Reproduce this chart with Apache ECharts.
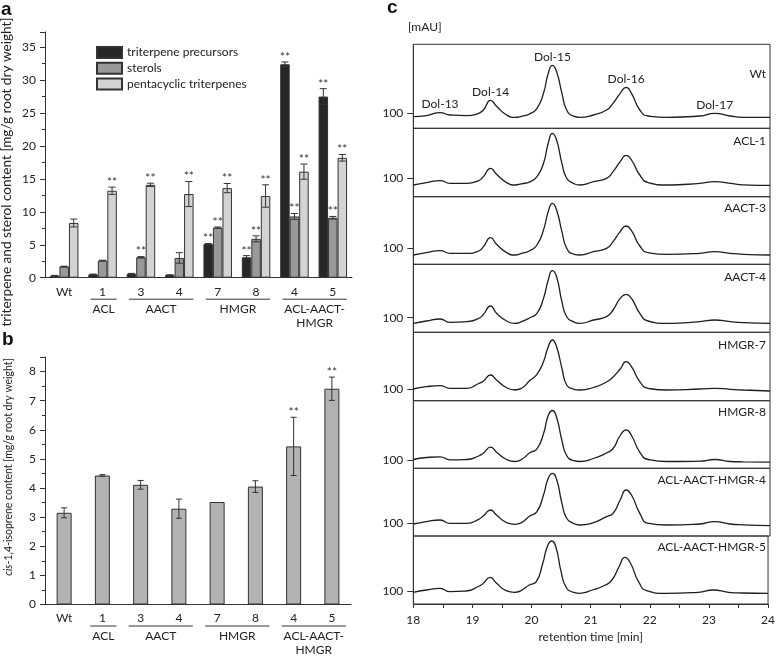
<!DOCTYPE html>
<html><head><meta charset="utf-8">
<script src="https://cdn.jsdelivr.net/npm/echarts@6/dist/echarts.min.js"></script>
<style>html,body{margin:0;padding:0;background:#fff}#c{width:778px;height:657px}</style>
</head><body><div id="c"></div>
<script>
// ---------- DATA ----------
const categories = ['Wt', '1', '3', '4', '7', '8', '4', '5'];
const groupNames = ['ACL', 'AACT', 'HMGR', 'ACL-AACT-\nHMGR'];
const groupStart = [1, 2, 4, 6];
const groupEnd = [1, 3, 5, 7];

// panel a (mg/g root dry weight)
const precursors    = [0.3, 0.5, 0.6, 0.4, 5.1, 3.1, 32.4, 27.5];
const precursorsErr = [0.05, 0.05, 0.05, 0.05, 0.1, 0.25, 0.35, 1.2];
const precursorsSig = [0, 0, 0, 0, 1, 1, 1, 1];
const sterols       = [1.7, 2.6, 3.1, 3.0, 7.6, 5.9, 9.3, 9.1];
const sterolsErr    = [0.05, 0.05, 0.1, 0.8, 0.1, 0.45, 0.45, 0.2];
const sterolsSig    = [0, 0, 1, 0, 1, 1, 1, 1];
const pentacyclic    = [8.3, 13.2, 14.1, 12.7, 13.6, 12.4, 16.1, 18.2];
const pentacyclicErr = [0.6, 0.55, 0.25, 1.9, 0.7, 1.7, 1.15, 0.5];
const pentacyclicSig = [0, 1, 1, 1, 1, 1, 1, 1];

// panel b (mg/g root dry weight)
const isoprene    = [3.15, 4.43, 4.11, 3.29, 3.52, 4.05, 5.43, 7.41];
const isopreneErr = [0.17, 0.03, 0.15, 0.33, 0, 0.2, 1.0, 0.4];
const isopreneSig = [0, 0, 0, 0, 0, 0, 1, 1];

// panel c (retention time [min], mAU)
const retTime = [18.0, 18.22, 18.45, 18.62, 18.9, 19.1, 19.18, 19.3, 19.4, 19.57, 19.71, 19.82, 19.96, 20.08, 20.19, 20.27, 20.34, 20.41, 20.5, 20.58, 20.69, 20.8, 21.03, 21.25, 21.36, 21.48, 21.58, 21.67, 21.81, 21.95, 22.26, 22.82, 23.07, 23.33, 23.55, 24.0];
const trWt     = [96.7, 97.7, 100.7, 98.3, 97.7, 100, 103.3, 113, 107, 98.3, 96, 97, 99.5, 105, 120, 140, 148, 141.7, 120, 103.3, 97.3, 96, 98.3, 103.3, 110, 120, 126, 120, 103.3, 97.3, 96, 97.3, 100, 97.3, 96, 96];
const trACL1   = [93.3, 95.7, 97.7, 95, 95, 97.7, 101.7, 110, 104, 95.7, 93.3, 94.5, 96.5, 101.7, 115, 135, 145, 138.3, 115, 100, 95, 93.3, 96.7, 100, 106.7, 116.7, 123, 118.3, 103.3, 95.7, 93.3, 95, 96.7, 95, 93.5, 93];
const trAACT3  = [93.3, 95.7, 97.7, 95, 95, 97.3, 101.7, 110.7, 104, 95.7, 93.3, 95, 97.5, 103.3, 118.3, 136.7, 145, 138.3, 116.7, 100, 94.3, 93.3, 96.7, 100, 106.7, 116.7, 122.3, 117.7, 102.3, 95.7, 94, 95, 96.7, 95, 94, 93.3];
const trAACT4  = [94.3, 96.7, 98.7, 95.3, 96, 99.3, 103.3, 111.7, 104.5, 96.7, 94.3, 96, 100, 104.3, 119.3, 137.7, 147, 141, 116, 101, 96, 94.3, 97.7, 101, 107.7, 119.3, 123.3, 119.3, 104.3, 96.7, 94.3, 96, 97.7, 96, 95, 94.3];
const trHMGR7  = [100, 102.3, 103.3, 100.7, 100.7, 105.5, 108, 114, 109, 101.3, 99, 100.7, 108.5, 114.7, 127.3, 142.3, 149, 142.3, 120.7, 104, 100, 99, 101.5, 107, 112, 120, 127.3, 122.3, 107.3, 100.7, 99, 100, 100.7, 99.7, 99, 98];
const trHMGR8  = [101, 103, 103.7, 100.7, 101, 104.5, 107.5, 113.3, 108.3, 101, 99, 101, 107.7, 111.7, 126.7, 145, 150, 143.3, 120, 105, 100, 99, 102, 107.5, 112, 125, 130.7, 125, 108.3, 101, 99, 99.3, 101, 99, 98.7, 98.3];
const trAAH4   = [99.3, 101.7, 103.3, 100, 100, 104, 107.5, 113.3, 108.3, 100.7, 99, 100.7, 107.3, 111.7, 128.3, 145, 150, 144, 120, 105, 100, 98.3, 100.7, 106.7, 110, 123.3, 133.3, 128.3, 110, 100, 98.3, 99.3, 101.7, 99.3, 98.5, 97.7];
const trAAH5   = [98.7, 101, 102.7, 99.3, 100, 104.5, 107.5, 113.7, 108.3, 100.3, 98.7, 100.3, 106, 109.3, 127.7, 145, 150, 144.3, 119.3, 104.3, 99, 97.7, 101, 106, 111, 124.3, 133.7, 128.3, 109.3, 100.3, 97.7, 98.7, 101, 98.7, 98, 97.7];
const traceNames = ['Wt', 'ACL-1', 'AACT-3', 'AACT-4', 'HMGR-7', 'HMGR-8', 'ACL-AACT-HMGR-4', 'ACL-AACT-HMGR-5'];
const traces = [trWt, trACL1, trAACT3, trAACT4, trHMGR7, trHMGR8, trAAH4, trAAH5];
const dolNames = ['Dol-13', 'Dol-14', 'Dol-15', 'Dol-16', 'Dol-17'];
const dolIndex = [2, 7, 16, 26, 32];

// ---------- LAYOUT ----------
const FONT = 'Lato, "Open Sans", sans-serif';
const TXT = '#222';
const LINE = '#333';
const cTops    = [44.3, 128.3, 196.7, 264.3, 332.3, 400.7, 468.3, 536];
const cHeights = [84, 68.4, 67.6, 68, 68.4, 67.6, 67.7, 68];
const cMin     = [85, 81.6, 84, 85.4, 88.3, 92.2, 87.3, 87];
const cLabelDy = [31, 14, 12.6, 13.4, 13.4, 12.6, 12.4, 12.3];
const BW_A = 9.5;

function errRender(vals, errs, sigs, offset, cap) {
  return function (params, api) {
    const i = params.dataIndex;
    const v = vals[i], e = errs[i];
    const c = api.coord([i, v]);
    const x = c[0] + offset;
    let top = c[1];
    const ch = [];
    if (e > 0) {
      const hi = api.coord([i, v + e])[1];
      const lo = api.coord([i, v - e])[1];
      const st = { stroke: LINE, lineWidth: 1 };
      ch.push({ type: 'line', shape: { x1: x, y1: hi, x2: x, y2: lo }, style: st });
      ch.push({ type: 'line', shape: { x1: x - cap, y1: hi, x2: x + cap, y2: hi }, style: st });
      ch.push({ type: 'line', shape: { x1: x - cap, y1: lo, x2: x + cap, y2: lo }, style: st });
      top = hi;
    }
    if (sigs[i]) {
      ch.push({ type: 'text', style: { text: '**', x: x, y: top + 1, align: 'center', verticalAlign: 'bottom', fontSize: 12, fontFamily: FONT, fill: '#333' } });
    }
    return { type: 'group', children: ch };
  };
}

function groupRender(params, api) {
  const i = params.dataIndex;
  const a = api.coord([groupStart[i], 0]);
  const b = api.coord([groupEnd[i], 0]);
  const x1 = a[0] - 12, x2 = b[0] + 14, y = a[1] + 21.5;
  return { type: 'group', children: [
    { type: 'line', shape: { x1: x1, y1: y, x2: x2, y2: y }, style: { stroke: LINE, lineWidth: 1 } },
    { type: 'text', style: { text: groupNames[i], x: (x1 + x2) / 2, y: y + 3, align: 'center', verticalAlign: 'top', fontSize: 12, lineHeight: 14, fontFamily: FONT, fill: TXT } }
  ] };
}

const grids = [
  { left: 45, top: 32, width: 307, height: 245.7 },
  { left: 45, top: 357, width: 306, height: 247.5 }
];
const xAxes = [], yAxes = [], series = [];

const catAxis = (gi) => ({
  gridIndex: gi, type: 'category', data: categories,
  axisLine: { lineStyle: { color: LINE } },
  axisTick: { length: 4, lineStyle: { color: LINE } },
  axisLabel: { fontSize: 12, color: TXT, margin: 8, fontFamily: FONT, interval: 0 }
});
xAxes.push(catAxis(0), catAxis(1));
const valAxis = (gi, max) => ({
  gridIndex: gi, type: 'value', min: 0, max: max, interval: gi === 0 ? 5 : 1,
  axisLine: { show: true, lineStyle: { color: LINE } },
  axisTick: { show: true, length: 5, lineStyle: { color: LINE } },
  minorTick: { show: true, splitNumber: 2, length: 3, lineStyle: { color: LINE } },
  splitLine: { show: false }, minorSplitLine: { show: false },
  axisLabel: { fontSize: 12, color: TXT, margin: 9, fontFamily: FONT, showMaxLabel: false }
});
yAxes.push(valAxis(0, 37.3), valAxis(1, 8.5));

const aSeries = [
  ['triterpene precursors', precursors, precursorsErr, precursorsSig, '#262626', -BW_A],
  ['sterols', sterols, sterolsErr, sterolsSig, '#999999', 0],
  ['pentacyclic triterpenes', pentacyclic, pentacyclicErr, pentacyclicSig, '#d3d3d3', BW_A]
];
aSeries.forEach(s => {
  series.push({ type: 'bar', name: s[0], xAxisIndex: 0, yAxisIndex: 0, data: s[1], barWidth: BW_A, barGap: '0%',
    itemStyle: { color: s[4], borderColor: LINE, borderWidth: 1 } });
});
aSeries.forEach(s => {
  series.push({ type: 'custom', xAxisIndex: 0, yAxisIndex: 0, z: 5, clip: false,
    data: s[1].map((v, i) => [i, v]), renderItem: errRender(s[1], s[2], s[3], s[5], 3.5) });
});
series.push({ type: 'custom', xAxisIndex: 0, yAxisIndex: 0, clip: false, silent: true,
  data: groupStart.map((g, i) => [g, 0]), renderItem: groupRender });

series.push({ type: 'bar', name: 'isoprene', xAxisIndex: 1, yAxisIndex: 1, data: isoprene, barWidth: 15,
  itemStyle: { color: '#b3b3b3', borderColor: LINE, borderWidth: 1 } });
series.push({ type: 'custom', xAxisIndex: 1, yAxisIndex: 1, z: 5, clip: false,
  data: isoprene.map((v, i) => [i, v]), renderItem: errRender(isoprene, isopreneErr, isopreneSig, 0, 3) });
series.push({ type: 'custom', xAxisIndex: 1, yAxisIndex: 1, clip: false, silent: true,
  data: groupStart.map((g, i) => [g, 0]), renderItem: groupRender });

// panel c
const bold = { fontSize: 19, fontWeight: 'bold', fontFamily: 'Liberation Sans, Arial', fill: '#111' };
const graphics = [
  { type: 'text', left: 1, top: 0, style: Object.assign({ text: 'a' }, bold) },
  { type: 'text', left: 2, top: 330, style: Object.assign({ text: 'b' }, bold) },
  { type: 'text', left: 387, top: -2, style: Object.assign({ text: 'c' }, bold) },
  { type: 'text', left: 408, top: 21, style: { text: '[mAU]', fontSize: 12, fontFamily: FONT, fill: TXT } },
  { type: 'text', x: 7, y: 172, rotation: Math.PI / 2,
    style: { text: 'triterpene and sterol content [mg/g root dry weight]', x: 0, y: 0, align: 'center', verticalAlign: 'middle',
      fontSize: 13.6, fontFamily: FONT, fill: TXT } },
  { type: 'text', x: 9, y: 467, rotation: Math.PI / 2,
    style: { text: '{i|cis}-1,4-isoprene content [mg/g root dry weight]', x: 0, y: 0, align: 'center', verticalAlign: 'middle',
      fontSize: 10.5, fontFamily: FONT, fill: TXT,
      rich: { i: { fontStyle: 'italic', fontSize: 10.5, fontFamily: FONT, fill: TXT } } } }
];
traces.forEach((tr, k) => {
  const gi = k + 2;
  grids.push({ left: 413.3, top: cTops[k], width: 356.7, height: cHeights[k], show: true, borderColor: LINE, borderWidth: 1 });
  const last = k === traces.length - 1;
  xAxes.push({
    gridIndex: gi, type: 'value', min: 18, max: 24, interval: 1, show: last,
    axisLine: { show: true, onZero: false, lineStyle: { color: LINE } },
    axisTick: { show: true, length: 4, lineStyle: { color: LINE } },
    minorTick: { show: true, splitNumber: 2, length: 4, lineStyle: { color: LINE } },
    splitLine: { show: false }, minorSplitLine: { show: false },
    axisLabel: { fontSize: 12, color: TXT, margin: 10, fontFamily: FONT },
    name: last ? 'retention time [min]' : '', nameLocation: 'middle', nameGap: 27,
    nameTextStyle: { fontSize: 12, color: TXT, fontFamily: FONT }
  });
  yAxes.push({
    gridIndex: gi, type: 'value', min: cMin[k], max: cMin[k] + cHeights[k],
    axisLine: { show: true, lineStyle: { color: LINE } },
    axisTick: { show: true, length: 6, customValues: [100], lineStyle: { color: LINE } },
    axisLabel: { fontSize: 12, color: TXT, margin: 10, fontFamily: FONT, customValues: [100] },
    splitLine: { show: false }
  });
  const s = {
    type: 'line', name: traceNames[k], xAxisIndex: gi, yAxisIndex: gi,
    data: retTime.map((t, j) => [t, tr[j]]), smooth: 0.55, symbol: 'none',
    lineStyle: { color: '#1e1e1e', width: 1.3 }
  };
  if (k === 0) {
    s.markPoint = {
      symbol: 'circle', symbolSize: 0, silent: true,
      label: { show: true, position: 'top', distance: 2, formatter: p => p.name, fontSize: 12, color: TXT, fontFamily: FONT },
      data: dolNames.map((n, m) => ({ name: n, coord: [retTime[dolIndex[m]], tr[dolIndex[m]]] }))
    };
  }
  series.push(s);
  graphics.push({ type: 'text', right: 12, top: cTops[k] + cLabelDy[k] - 7,
    style: { text: traceNames[k], fontSize: 12, fontFamily: FONT, fill: TXT, align: 'right' } });
});

const chart = echarts.init(document.getElementById('c'), null, { renderer: 'canvas' });
chart.setOption({
  animation: false,
  textStyle: { fontFamily: FONT },
  grid: grids, xAxis: xAxes, yAxis: yAxes, series: series,
  legend: {
    data: ['triterpene precursors', 'sterols', 'pentacyclic triterpenes'],
    orient: 'vertical', left: 91, top: 41, itemWidth: 25, itemHeight: 11, itemGap: 2.7,
    icon: 'rect', textStyle: { fontSize: 12, color: TXT, fontFamily: FONT }, selectedMode: false
  },
  graphic: graphics
});
</script></body></html>
